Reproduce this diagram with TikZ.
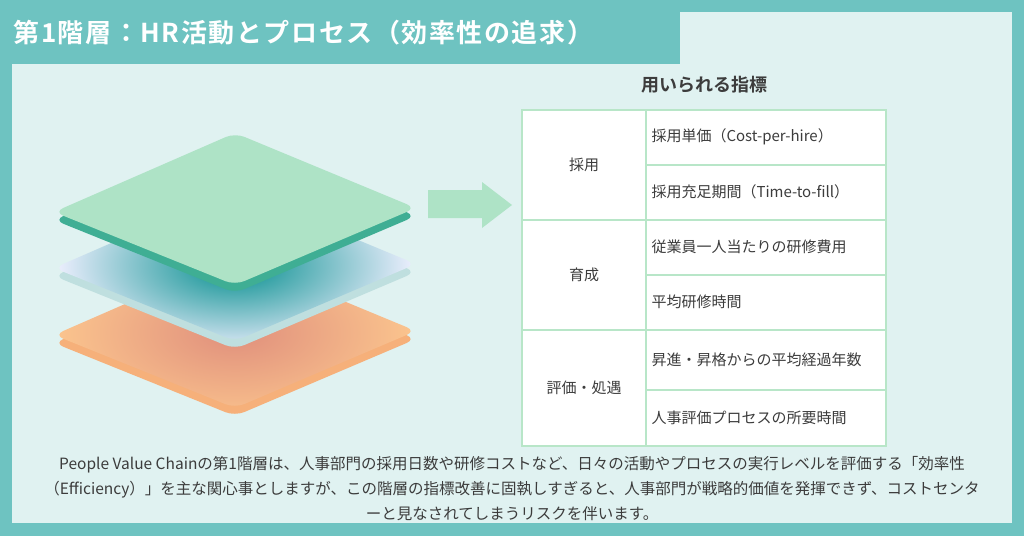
\documentclass[tikz,border=0pt]{standalone}
\usepackage{fontspec}
\setmainfont{Noto Sans CJK JP}
\newfontfamily\jpbold[LetterSpace=6]{Noto Sans CJK JP Bold}
\newfontfamily\jpboldtight{Noto Sans CJK JP Bold}
\definecolor{frame}{HTML}{6EC3C1}
\definecolor{panel}{HTML}{E0F2F1}
\definecolor{rule}{HTML}{B8E6C8}
\definecolor{mint}{HTML}{AEE3C6}
\definecolor{mintdark}{HTML}{3FAE94}
\definecolor{salmon}{HTML}{E08F7C}
\definecolor{peach}{HTML}{FBC58E}
\definecolor{peachside}{HTML}{F6B07A}
\definecolor{ink}{HTML}{3C3C3C}
\tikzset{
  cell/.style={font=\fontsize{15}{17}\selectfont, text=ink, anchor=west},
  head/.style={font=\fontsize{15}{17}\selectfont, text=ink},
  body/.style={font=\fontsize{15.5}{18}\selectfont, text=ink}
}
\begin{document}
\begin{tikzpicture}[x=1pt,y=-1pt]
	\useasboundingbox (0,0) rectangle (1024,536);
	\fill [frame] (0,0) rectangle (1024,536);
	\fill [panel] (12,12) rectangle (1012,523);
	\fill [frame] (0,0) rectangle (680,64);
	\node (title) [anchor=west, text=white, font=\jpbold\fontsize{26}{28}\selectfont] at (10,33) {第1階層：HR活動とプロセス（効率性の追求）};

	% layers
	\fill [rounded corners=10, color=peachside] (54,343) -- (235,264) -- (416,339) -- (235,416) -- cycle;
	\begin{scope}
		\clip [rounded corners=10] (54,335) -- (235,256) -- (416,331) -- (235,408) -- cycle;
		\shade [inner color=salmon, outer color=peach] (54,240) rectangle (416,425);
	\end{scope}
	\fill [rounded corners=10, color=teal!25!white] (54,276) -- (235,197) -- (416,272) -- (235,349) -- cycle;
	\begin{scope}
		\clip [rounded corners=10] (54,268) -- (235,189) -- (416,264) -- (235,341) -- cycle;
		\shade [inner color=teal!90!cyan, outer color=blue!6!white] (54,175) rectangle (416,355);
	\end{scope}
	\fill [rounded corners=10, color=mintdark] (54,220) -- (235,141) -- (416,216) -- (235,293) -- cycle;
	\fill [rounded corners=10, color=mint] (54,212) -- (235,133) -- (416,208) -- (235,285) -- cycle;

	% arrow
	\fill [mint] (428,190) -- (482,190) -- (482,182) -- (512,205) -- (482,228) -- (482,218) -- (428,218) -- cycle;

	% table
	\node (tabtitle) [font=\jpboldtight\fontsize{18}{20}\selectfont, text=ink] at (704,85) {用いられる指標};
	\fill [white] (522,110) rectangle (886,446);
	\draw [rule, line width=1.2] (522,110) rectangle (886,446);
	\draw [rule, line width=1.2] (646,110) -- (646,446);
	\foreach \y in {220,330}
	{
		\draw [rule, line width=1.2] (522,\y) -- (886,\y);
	}
	\foreach \y in {165,275,390}
	{
		\draw [rule, line width=1.2] (646,\y) -- (886,\y);
	}
	\node (saiyo) [head] at (584,165) {採用};
	\node (ikusei) [head] at (584,275) {育成};
	\node (hyoka) [head] at (584,388) {評価・処遇};
	\node (m1) [cell] at (648,137) {採用単価（Cost-per-hire）};
	\node (m2) [cell] at (648,192) {採用充足期間（Time-to-fill）};
	\node (m3) [cell] at (648,247) {従業員一人当たりの研修費用};
	\node (m4) [cell] at (648,302) {平均研修時間};
	\node (m5) [cell] at (648,360) {昇進・昇格からの平均経過年数};
	\node (m6) [cell] at (648,418) {人事評価プロセスの所要時間};

	% caption
	\node (cap1) [body] at (512,465) {People Value Chainの第1階層は、人事部門の採用日数や研修コストなど、日々の活動やプロセスの実行レベルを評価する「効率性};
	\node (cap2) [body] at (512,490) {（Efficiency）」を主な関心事としますが、この階層の指標改善に固執しすぎると、人事部門が戦略的価値を発揮できず、コストセンタ};
	\node (cap3) [body] at (512,514) {ーと見なされてしまうリスクを伴います。};
\end{tikzpicture}
\end{document}
